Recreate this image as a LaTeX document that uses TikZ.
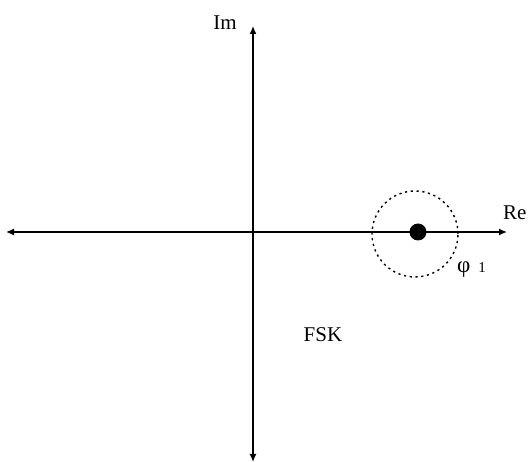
\documentclass[tikz,border=0pt]{standalone}
\usepackage{fontspec}
\setmainfont{Liberation Serif}
\usetikzlibrary{arrows.meta}
\begin{document}
\begin{tikzpicture}[x=1pt,y=-1pt,
  axis/.style={line width=1.4pt,-{Latex[length=8pt,width=7pt]}},
  lbl/.style={font=\fontsize{21}{23}\selectfont, inner sep=0pt}]
\useasboundingbox (0,0) rectangle (528,462);
\coordinate (o) at (253,232);
\coordinate (re) at (507,232);
\coordinate (le) at (6,232);
\coordinate (im) at (253,26);
\coordinate (dn) at (253,462);
\draw[axis] (o) -- (re);
\draw[axis] (o) -- (le);
\draw[axis] (o) -- (im);
\draw[axis] (o) -- (dn);
\node[lbl] (imlbl) at (225,23) {Im};
\node[lbl, anchor=base west] (relbl) at (503,220) {Re};
\node[lbl] (fsk) at (323,335) {FSK};
\node[lbl, anchor=base west] (phi) at (457,273) {\fontsize{23}{24}\selectfont φ\hspace{8pt}{\fontsize{15}{15}\selectfont 1}};
\node[circle, draw, dash pattern=on 2.2pt off 3.6pt, line width=1.4pt, minimum size=86pt, inner sep=0pt] (ring) at (415,234) {};
\node[circle, fill=black, minimum size=17pt, inner sep=0pt] (dot) at (418,232) {};
\end{tikzpicture}
\end{document}
